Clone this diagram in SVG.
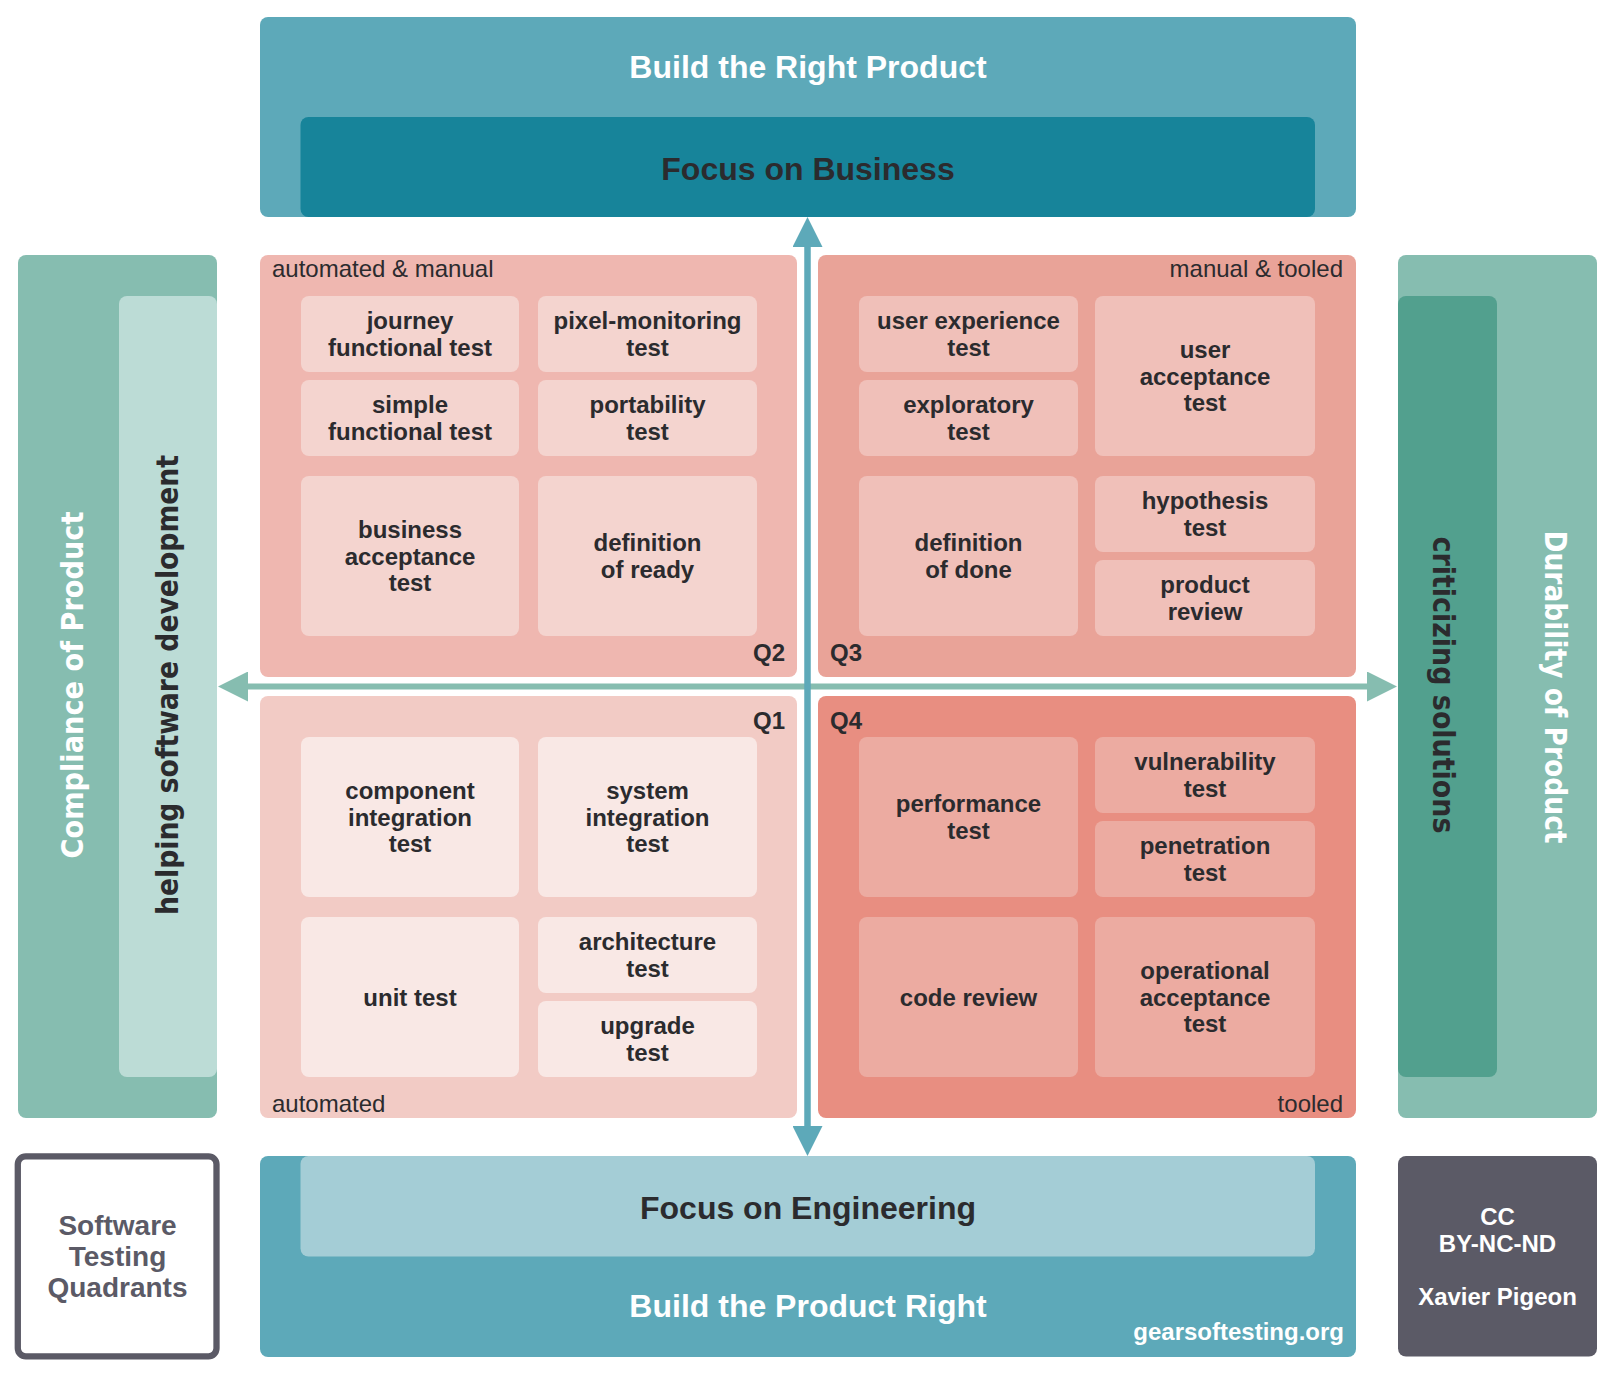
<svg xmlns="http://www.w3.org/2000/svg" width="1614" height="1374" viewBox="0 0 1614 1374">
  <defs>
    <style>
      text { font-family: "Liberation Sans", Arial, sans-serif; }
      .cell { font-weight: bold; font-size: 24px; fill: #2b2b2e; text-anchor: middle; }
      .note { font-size: 24px; fill: #2b2b2e; }
      .qlab { font-weight: bold; font-size: 24px; fill: #2b2b2e; }
      .band { font-weight: bold; font-size: 32px; text-anchor: middle; }
      .light { fill: #ffffff; }
      .dark { fill: #2b2b2e; }
      .side { font-family: "DejaVu Sans", "Liberation Sans", sans-serif; font-weight: bold; font-size: 30px; text-anchor: middle; }
      .q1 { fill: #f2cbc5; } .q1c { fill: #f9e8e5; }
      .q2 { fill: #efb7b0; } .q2c { fill: #f4d4cf; }
      .q3 { fill: #e9a398; } .q3c { fill: #f0c0b9; }
      .q4 { fill: #e88e81; } .q4c { fill: #ecaba1; }
      .blue-out { fill: #5da9b9; }
      .green-out { fill: #86bdb0; }
      .axis-v { stroke: #5da9b9; stroke-width: 6.5; fill: none; }
      .axis-h { stroke: #86bdb0; stroke-width: 6; fill: none; }
    </style>
    <marker id="head-blue" viewBox="0 0 30 30" markerUnits="userSpaceOnUse" markerWidth="30" markerHeight="30" refX="0" refY="15" orient="auto-start-reverse">
      <path d="M0,0 L30,15 L0,30 Z" fill="#5da9b9"/>
    </marker>
    <marker id="head-green" viewBox="0 0 30 30" markerUnits="userSpaceOnUse" markerWidth="30" markerHeight="30" refX="0" refY="15" orient="auto-start-reverse">
      <path d="M0,0 L30,15 L0,30 Z" fill="#86bdb0"/>
    </marker>
  </defs>

  <rect width="1614" height="1374" fill="#ffffff"/>

  <!-- top band -->
  <g id="build-right-product">
    <rect class="blue-out" x="260" y="17" width="1096" height="200" rx="8"/>
    <text class="band light" x="808" y="78">Build the Right Product</text>
  </g>
  <g id="focus-business">
    <rect x="300.5" y="117" width="1014.5" height="100" rx="8" fill="#17849a"/>
    <text class="band dark" x="808" y="179.5">Focus on Business</text>
  </g>

  <!-- left side -->
  <g id="compliance">
    <rect class="green-out" x="18" y="255" width="199" height="863" rx="8"/>
    <text class="side light" transform="translate(83,685) rotate(-90)" textLength="347" lengthAdjust="spacingAndGlyphs">Compliance of Product</text>
  </g>
  <g id="helping-dev">
    <rect x="119" y="296" width="98" height="781" rx="8" fill="#bcdcd6"/>
    <text class="side dark" transform="translate(178,685) rotate(-90)" textLength="460" lengthAdjust="spacingAndGlyphs">helping software development</text>
  </g>

  <!-- right side -->
  <g id="durability">
    <rect class="green-out" x="1398" y="255" width="199" height="863" rx="8"/>
    <text class="side light" transform="translate(1545,687) rotate(90)" textLength="313" lengthAdjust="spacingAndGlyphs">Durability of Product</text>
  </g>
  <g id="criticizing">
    <rect x="1398" y="296" width="99" height="781" rx="8" fill="#52a08e"/>
    <text class="side dark" transform="translate(1433,685) rotate(90)" textLength="297" lengthAdjust="spacingAndGlyphs">criticizing solutions</text>
  </g>

  <!-- Q2 -->
  <g id="q2">
    <rect class="q2" x="260" y="255" width="537" height="422" rx="8"/>
    <text class="note" x="272" y="277">automated &amp; manual</text>
    <text class="qlab" x="785" y="661" text-anchor="end">Q2</text>
  </g>
  <g id="q2-journey">
    <rect class="q2c" x="301" y="296" width="218" height="76" rx="8"/>
    <text class="cell"><tspan x="410" y="329.3">journey</tspan><tspan x="410" y="356">functional test</tspan></text>
  </g>
  <g id="q2-pixel">
    <rect class="q2c" x="538" y="296" width="219" height="76" rx="8"/>
    <text class="cell"><tspan x="647.5" y="329.3">pixel-monitoring</tspan><tspan x="647.5" y="356">test</tspan></text>
  </g>
  <g id="q2-simple">
    <rect class="q2c" x="301" y="380" width="218" height="76" rx="8"/>
    <text class="cell"><tspan x="410" y="413.3">simple</tspan><tspan x="410" y="440">functional test</tspan></text>
  </g>
  <g id="q2-portability">
    <rect class="q2c" x="538" y="380" width="219" height="76" rx="8"/>
    <text class="cell"><tspan x="647.5" y="413.3">portability</tspan><tspan x="647.5" y="440">test</tspan></text>
  </g>
  <g id="q2-business">
    <rect class="q2c" x="301" y="476" width="218" height="160" rx="8"/>
    <text class="cell"><tspan x="410" y="537.9">business</tspan><tspan x="410" y="564.6">acceptance</tspan><tspan x="410" y="591.3">test</tspan></text>
  </g>
  <g id="q2-dor">
    <rect class="q2c" x="538" y="476" width="219" height="160" rx="8"/>
    <text class="cell"><tspan x="647.5" y="551.3">definition</tspan><tspan x="647.5" y="578">of ready</tspan></text>
  </g>

  <!-- Q3 -->
  <g id="q3">
    <rect class="q3" x="818" y="255" width="538" height="422" rx="8"/>
    <text class="note" x="1343" y="277" text-anchor="end">manual &amp; tooled</text>
    <text class="qlab" x="830" y="661">Q3</text>
  </g>
  <g id="q3-ux">
    <rect class="q3c" x="859" y="296" width="219" height="76" rx="8"/>
    <text class="cell"><tspan x="968.5" y="329.3">user experience</tspan><tspan x="968.5" y="356">test</tspan></text>
  </g>
  <g id="q3-exploratory">
    <rect class="q3c" x="859" y="380" width="219" height="76" rx="8"/>
    <text class="cell"><tspan x="968.5" y="413.3">exploratory</tspan><tspan x="968.5" y="440">test</tspan></text>
  </g>
  <g id="q3-uat">
    <rect class="q3c" x="1095" y="296" width="220" height="160" rx="8"/>
    <text class="cell"><tspan x="1205" y="357.9">user</tspan><tspan x="1205" y="384.6">acceptance</tspan><tspan x="1205" y="411.3">test</tspan></text>
  </g>
  <g id="q3-dod">
    <rect class="q3c" x="859" y="476" width="219" height="160" rx="8"/>
    <text class="cell"><tspan x="968.5" y="551.3">definition</tspan><tspan x="968.5" y="578">of done</tspan></text>
  </g>
  <g id="q3-hypothesis">
    <rect class="q3c" x="1095" y="476" width="220" height="76" rx="8"/>
    <text class="cell"><tspan x="1205" y="509.3">hypothesis</tspan><tspan x="1205" y="536">test</tspan></text>
  </g>
  <g id="q3-review">
    <rect class="q3c" x="1095" y="560" width="220" height="76" rx="8"/>
    <text class="cell"><tspan x="1205" y="593.3">product</tspan><tspan x="1205" y="620">review</tspan></text>
  </g>

  <!-- Q1 -->
  <g id="q1">
    <rect class="q1" x="260" y="696" width="537" height="422" rx="8"/>
    <text class="note" x="272" y="1112">automated</text>
    <text class="qlab" x="785" y="729" text-anchor="end">Q1</text>
  </g>
  <g id="q1-component">
    <rect class="q1c" x="301" y="737" width="218" height="160" rx="8"/>
    <text class="cell"><tspan x="410" y="798.9">component</tspan><tspan x="410" y="825.6">integration</tspan><tspan x="410" y="852.3">test</tspan></text>
  </g>
  <g id="q1-system">
    <rect class="q1c" x="538" y="737" width="219" height="160" rx="8"/>
    <text class="cell"><tspan x="647.5" y="798.9">system</tspan><tspan x="647.5" y="825.6">integration</tspan><tspan x="647.5" y="852.3">test</tspan></text>
  </g>
  <g id="q1-unit">
    <rect class="q1c" x="301" y="917" width="218" height="160" rx="8"/>
    <text class="cell" x="410" y="1005.6">unit test</text>
  </g>
  <g id="q1-architecture">
    <rect class="q1c" x="538" y="917" width="219" height="76" rx="8"/>
    <text class="cell"><tspan x="647.5" y="950.3">architecture</tspan><tspan x="647.5" y="977">test</tspan></text>
  </g>
  <g id="q1-upgrade">
    <rect class="q1c" x="538" y="1001" width="219" height="76" rx="8"/>
    <text class="cell"><tspan x="647.5" y="1034.3">upgrade</tspan><tspan x="647.5" y="1061">test</tspan></text>
  </g>

  <!-- Q4 -->
  <g id="q4">
    <rect class="q4" x="818" y="696" width="538" height="422" rx="8"/>
    <text class="note" x="1343" y="1112" text-anchor="end">tooled</text>
    <text class="qlab" x="830" y="729">Q4</text>
  </g>
  <g id="q4-performance">
    <rect class="q4c" x="859" y="737" width="219" height="160" rx="8"/>
    <text class="cell"><tspan x="968.5" y="812.3">performance</tspan><tspan x="968.5" y="839">test</tspan></text>
  </g>
  <g id="q4-vulnerability">
    <rect class="q4c" x="1095" y="737" width="220" height="76" rx="8"/>
    <text class="cell"><tspan x="1205" y="770.3">vulnerability</tspan><tspan x="1205" y="797">test</tspan></text>
  </g>
  <g id="q4-penetration">
    <rect class="q4c" x="1095" y="821" width="220" height="76" rx="8"/>
    <text class="cell"><tspan x="1205" y="854.3">penetration</tspan><tspan x="1205" y="881">test</tspan></text>
  </g>
  <g id="q4-code-review">
    <rect class="q4c" x="859" y="917" width="219" height="160" rx="8"/>
    <text class="cell" x="968.5" y="1005.6">code review</text>
  </g>
  <g id="q4-oat">
    <rect class="q4c" x="1095" y="917" width="220" height="160" rx="8"/>
    <text class="cell"><tspan x="1205" y="978.9">operational</tspan><tspan x="1205" y="1005.6">acceptance</tspan><tspan x="1205" y="1032.3">test</tspan></text>
  </g>

  <!-- bottom band -->
  <g id="build-product-right">
    <rect class="blue-out" x="260" y="1156" width="1096" height="201" rx="8"/>
    <text class="band light" x="808" y="1317">Build the Product Right</text>
    <text class="qlab light" x="1344" y="1340" text-anchor="end">gearsoftesting.org</text>
  </g>
  <g id="focus-engineering">
    <rect x="300.5" y="1156" width="1014.5" height="100.5" rx="8" fill="#a4cdd6"/>
    <text class="band dark" x="808" y="1218.5">Focus on Engineering</text>
  </g>

  <!-- corner boxes -->
  <g id="title">
    <rect x="17.8" y="1156.3" width="198.7" height="200" rx="8" fill="#ffffff" stroke="#5b5a66" stroke-width="6.3"/>
    <text font-weight="bold" font-size="28" fill="#5b5a66" text-anchor="middle"><tspan x="117.5" y="1235">Software</tspan><tspan x="117.5" y="1266">Testing</tspan><tspan x="117.5" y="1297">Quadrants</tspan></text>
  </g>
  <g id="license">
    <rect x="1398" y="1156" width="199" height="200.5" rx="8" fill="#5b5a66"/>
    <text class="cell light"><tspan x="1497.5" y="1225">CC</tspan><tspan x="1497.5" y="1252">BY-NC-ND</tspan><tspan x="1497.5" y="1305">Xavier Pigeon</tspan></text>
  </g>

  <!-- axes -->
  <g id="connectors">
    <line class="axis-h" x1="248" y1="686.5" x2="1367" y2="686.5" marker-start="url(#head-green)" marker-end="url(#head-green)"/>
    <line class="axis-v" x1="807.5" y1="247" x2="807.5" y2="1126" marker-start="url(#head-blue)" marker-end="url(#head-blue)"/>
  </g>
</svg>
